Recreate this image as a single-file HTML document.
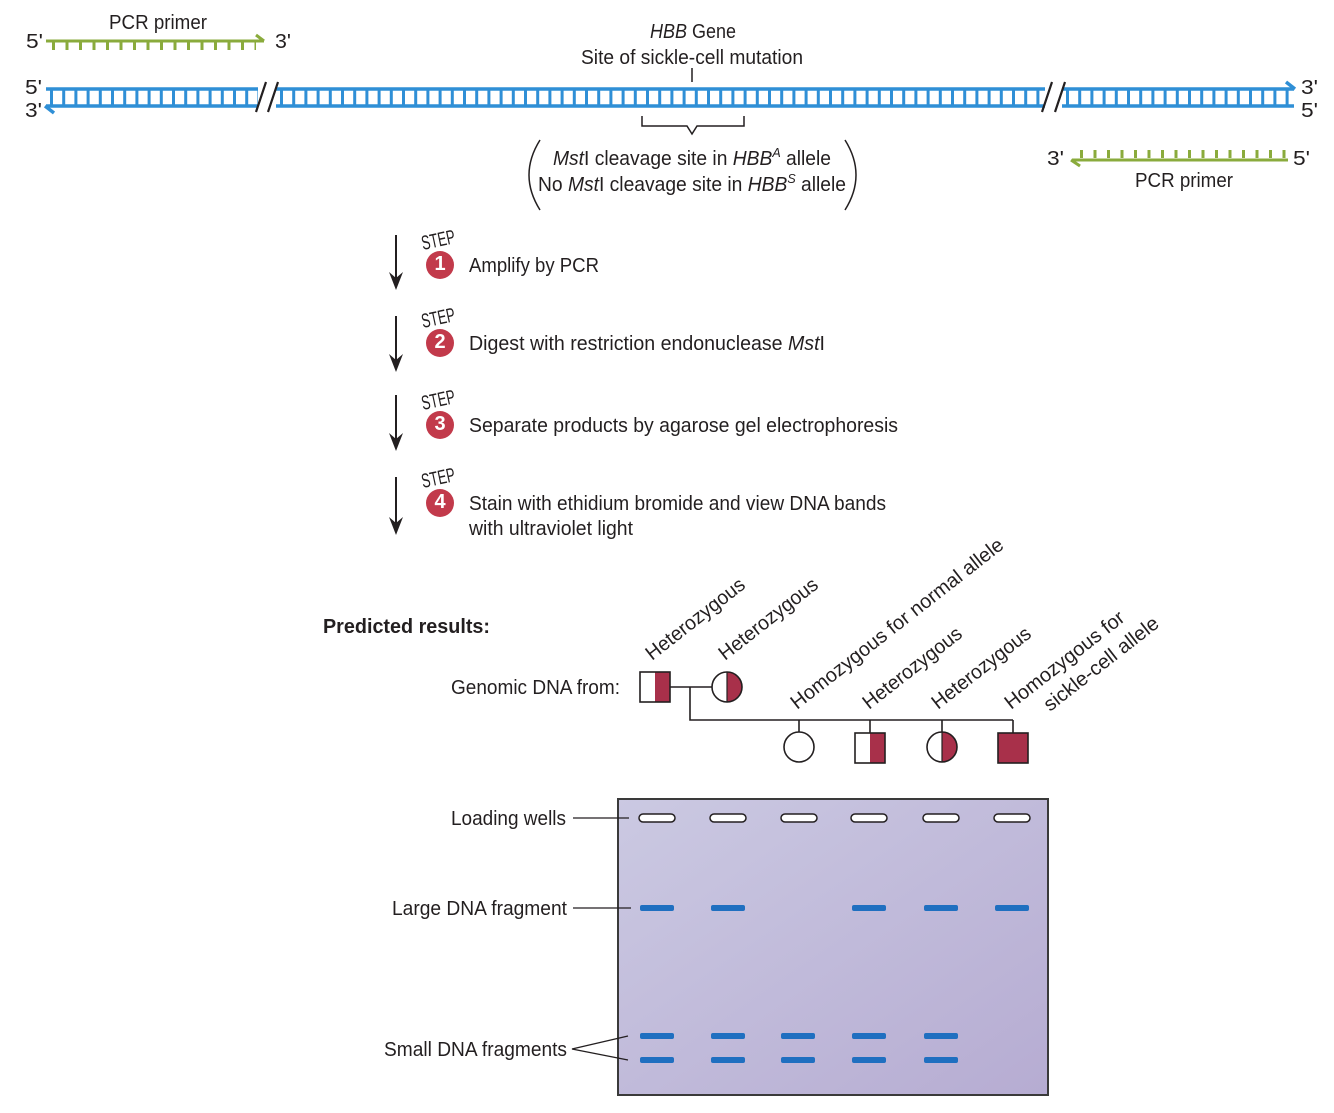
<!DOCTYPE html>
<html><head><meta charset="utf-8"><style>
html,body{margin:0;padding:0;background:#fff;}
svg{display:block;}
text{font-family:"Liberation Sans Narrow","Liberation Sans",sans-serif;fill:#231f20;font-size:20px;}
</style></head><body>
<svg width="1334" height="1113" viewBox="0 0 1334 1113" xmlns="http://www.w3.org/2000/svg">
<defs>
<linearGradient id="gel" x1="0" y1="0" x2="1" y2="1">
<stop offset="0" stop-color="#cbc9e2"/><stop offset="1" stop-color="#b6acd2"/>
</linearGradient>
</defs>
<!-- top-left primer -->
<text x="158" y="29" text-anchor="middle" textLength="98" lengthAdjust="spacingAndGlyphs">PCR primer</text>
<text x="26" y="48" textLength="17" lengthAdjust="spacingAndGlyphs">5'</text>
<text x="275" y="48" textLength="16" lengthAdjust="spacingAndGlyphs">3'</text>
<line x1="46" y1="41" x2="264" y2="41" stroke="#8aab3c" stroke-width="3"/>
<line x1="52" y1="46" x2="256" y2="46" stroke="#8aab3c" stroke-width="8" stroke-dasharray="3 10.5"/>
<polyline points="256,35 264,41" stroke="#8aab3c" stroke-width="3" fill="none"/>
<!-- DNA -->
<g stroke="#2f8fd6" fill="none">
<line x1="46" y1="89" x2="258" y2="89" stroke-width="3.5"/>
<line x1="46" y1="106" x2="258" y2="106" stroke-width="3.5"/>
<line x1="276" y1="89" x2="1045" y2="89" stroke-width="3.5"/>
<line x1="276" y1="106" x2="1045" y2="106" stroke-width="3.5"/>
<line x1="1062" y1="89" x2="1294" y2="89" stroke-width="3.5"/>
<line x1="1062" y1="106" x2="1294" y2="106" stroke-width="3.5"/>
<line x1="50" y1="97.5" x2="258" y2="97.5" stroke-width="14" stroke-dasharray="3 9.2"/>
<line x1="280" y1="97.5" x2="1045" y2="97.5" stroke-width="14" stroke-dasharray="3 9.2"/>
<line x1="1066" y1="97.5" x2="1292" y2="97.5" stroke-width="14" stroke-dasharray="3 9.2"/>
<polyline points="1286,82 1295,89" stroke-width="3.5"/>
<polyline points="54,113 45,106" stroke-width="3.5"/>
</g>
<g stroke="#231f20" stroke-width="2.2">
<line x1="256" y1="112" x2="266" y2="82"/><line x1="268" y1="112" x2="278" y2="82"/>
<line x1="1042" y1="112" x2="1052" y2="82"/><line x1="1055" y1="112" x2="1065" y2="82"/>
</g>
<text x="25" y="94" textLength="17" lengthAdjust="spacingAndGlyphs">5'</text>
<text x="25" y="117" textLength="17" lengthAdjust="spacingAndGlyphs">3'</text>
<text x="1301" y="94" textLength="17" lengthAdjust="spacingAndGlyphs">3'</text>
<text x="1301" y="117" textLength="17" lengthAdjust="spacingAndGlyphs">5'</text>
<!-- HBB labels -->
<text x="650" y="38" textLength="86" lengthAdjust="spacingAndGlyphs"><tspan font-style="italic">HBB</tspan> Gene</text>
<text x="692" y="64" text-anchor="middle" textLength="222" lengthAdjust="spacingAndGlyphs">Site of sickle-cell mutation</text>
<line x1="692" y1="68" x2="692" y2="82" stroke="#231f20" stroke-width="1.5"/>
<polyline points="642,116 642,126 687,126 692,134 697,126 744,126 744,116" fill="none" stroke="#231f20" stroke-width="1.5"/>
<path d="M540,140 Q518,175 540,210" fill="none" stroke="#231f20" stroke-width="1.5"/>
<path d="M845,140 Q867,175 845,210" fill="none" stroke="#231f20" stroke-width="1.5"/>
<text x="553" y="165" textLength="278" lengthAdjust="spacingAndGlyphs"><tspan font-style="italic">Mst</tspan>I cleavage site in <tspan font-style="italic">HBB</tspan><tspan font-style="italic" font-size="13" dy="-8">A</tspan><tspan dy="8"> allele</tspan></text>
<text x="538" y="191" textLength="308" lengthAdjust="spacingAndGlyphs"><tspan>No </tspan><tspan font-style="italic">Mst</tspan>I cleavage site in <tspan font-style="italic">HBB</tspan><tspan font-style="italic" font-size="13" dy="-8">S</tspan><tspan dy="8"> allele</tspan></text>
<!-- right primer -->
<line x1="1072" y1="160" x2="1288" y2="160" stroke="#8aab3c" stroke-width="3"/>
<line x1="1080" y1="154" x2="1288" y2="154" stroke="#8aab3c" stroke-width="8" stroke-dasharray="3 10.5"/>
<polyline points="1080,166 1071,160" stroke="#8aab3c" stroke-width="3" fill="none"/>
<text x="1047" y="165" textLength="17" lengthAdjust="spacingAndGlyphs">3'</text>
<text x="1293" y="165" textLength="17" lengthAdjust="spacingAndGlyphs">5'</text>
<text x="1184" y="187" text-anchor="middle" textLength="98" lengthAdjust="spacingAndGlyphs">PCR primer</text>
<!-- steps -->
<g stroke="#231f20" stroke-width="2" fill="#231f20">
<line x1="396" y1="235" x2="396" y2="282"/><path d="M389,272 L396,290 L403,272 L396,278Z" stroke="none"/>
<line x1="396" y1="316" x2="396" y2="364"/><path d="M389,354 L396,372 L403,354 L396,360Z" stroke="none"/>
<line x1="396" y1="395" x2="396" y2="443"/><path d="M389,433 L396,451 L403,433 L396,439Z" stroke="none"/>
<line x1="396" y1="477" x2="396" y2="527"/><path d="M389,517 L396,535 L403,517 L396,523Z" stroke="none"/>
</g>
<g font-size="11">
<text x="423" y="250" transform="rotate(-12 423 250)" textLength="34" lengthAdjust="spacingAndGlyphs">STEP</text>
<text x="423" y="328" transform="rotate(-12 423 328)" textLength="34" lengthAdjust="spacingAndGlyphs">STEP</text>
<text x="423" y="410" transform="rotate(-12 423 410)" textLength="34" lengthAdjust="spacingAndGlyphs">STEP</text>
<text x="423" y="488" transform="rotate(-12 423 488)" textLength="34" lengthAdjust="spacingAndGlyphs">STEP</text>
</g>
<g fill="#c23a4b">
<circle cx="440" cy="265" r="14"/><circle cx="440" cy="343" r="14"/><circle cx="440" cy="425" r="14"/><circle cx="440" cy="503" r="14"/>
</g>
<g font-size="15" font-weight="bold" text-anchor="middle">
<text x="440" y="270" style="fill:#fff">1</text><text x="440" y="348" style="fill:#fff">2</text><text x="440" y="430" style="fill:#fff">3</text><text x="440" y="508" style="fill:#fff">4</text>
</g>
<text x="469" y="272" textLength="130" lengthAdjust="spacingAndGlyphs">Amplify by PCR</text>
<text x="469" y="350" textLength="356" lengthAdjust="spacingAndGlyphs">Digest with restriction endonuclease <tspan font-style="italic">Mst</tspan>I</text>
<text x="469" y="432" textLength="429" lengthAdjust="spacingAndGlyphs">Separate products by agarose gel electrophoresis</text>
<text x="469" y="510" textLength="417" lengthAdjust="spacingAndGlyphs">Stain with ethidium bromide and view DNA bands</text>
<text x="469" y="535" textLength="164" lengthAdjust="spacingAndGlyphs">with ultraviolet light</text>
<!-- predicted -->
<text x="323" y="633" font-weight="bold" textLength="167" lengthAdjust="spacingAndGlyphs">Predicted results:</text>
<text x="451" y="694" textLength="169" lengthAdjust="spacingAndGlyphs">Genomic DNA from:</text>
<g transform="rotate(-38 652 661)"><text x="652" y="661" textLength="120" lengthAdjust="spacingAndGlyphs">Heterozygous</text></g>
<g transform="rotate(-38 725 661)"><text x="725" y="661" textLength="120" lengthAdjust="spacingAndGlyphs">Heterozygous</text></g>
<g transform="rotate(-38 797 710)"><text x="797" y="710" textLength="264" lengthAdjust="spacingAndGlyphs">Homozygous for normal allele</text></g>
<g transform="rotate(-38 869 710)"><text x="869" y="710" textLength="120" lengthAdjust="spacingAndGlyphs">Heterozygous</text></g>
<g transform="rotate(-38 938 710)"><text x="938" y="710" textLength="120" lengthAdjust="spacingAndGlyphs">Heterozygous</text></g>
<g transform="rotate(-38 1011 710)"><text x="1011" y="710" textLength="146" lengthAdjust="spacingAndGlyphs">Homozygous for</text></g>
<g transform="rotate(-38 1050 712)"><text x="1050" y="712" textLength="140" lengthAdjust="spacingAndGlyphs">sickle-cell allele</text></g>
<!-- pedigree -->
<g stroke="#231f20" stroke-width="1.6" fill="none">
<line x1="670" y1="687" x2="712" y2="687"/>
<polyline points="690,687 690,720 1013,720"/>
<line x1="799" y1="720" x2="799" y2="732"/><line x1="870" y1="720" x2="870" y2="733"/>
<line x1="942" y1="720" x2="942" y2="732"/><line x1="1013" y1="720" x2="1013" y2="733"/>
</g>
<rect x="655" y="672" width="15" height="30" fill="#a8304a"/>
<rect x="640" y="672" width="30" height="30" fill="none" stroke="#231f20" stroke-width="1.6"/>
<path d="M727,672 A15,15 0 0 1 727,702Z" fill="#a8304a"/>
<circle cx="727" cy="687" r="15" fill="none" stroke="#231f20" stroke-width="1.6"/>
<line x1="727" y1="672" x2="727" y2="702" stroke="#231f20" stroke-width="1.2"/>
<circle cx="799" cy="747" r="15" fill="#fff" stroke="#231f20" stroke-width="1.6"/>
<rect x="870" y="733" width="15" height="30" fill="#a8304a"/>
<rect x="855" y="733" width="30" height="30" fill="none" stroke="#231f20" stroke-width="1.6"/>
<path d="M942,732 A15,15 0 0 1 942,762Z" fill="#a8304a"/>
<circle cx="942" cy="747" r="15" fill="none" stroke="#231f20" stroke-width="1.6"/>
<line x1="942" y1="732" x2="942" y2="762" stroke="#231f20" stroke-width="1.2"/>
<rect x="998" y="733" width="30" height="30" fill="#a8304a" stroke="#231f20" stroke-width="1.6"/>
<!-- gel -->
<rect x="618" y="799" width="430" height="296" fill="url(#gel)" stroke="#3a3a3a" stroke-width="2"/>
<g fill="#fff" stroke="#231f20" stroke-width="1.5">
<rect x="639" y="814" width="36" height="8" rx="4"/><rect x="710" y="814" width="36" height="8" rx="4"/>
<rect x="781" y="814" width="36" height="8" rx="4"/><rect x="851" y="814" width="36" height="8" rx="4"/>
<rect x="923" y="814" width="36" height="8" rx="4"/><rect x="994" y="814" width="36" height="8" rx="4"/>
</g>
<g fill="#1f6fc0">
<rect x="640" y="905" width="34" height="6" rx="2"/><rect x="711" y="905" width="34" height="6" rx="2"/>
<rect x="852" y="905" width="34" height="6" rx="2"/><rect x="924" y="905" width="34" height="6" rx="2"/><rect x="995" y="905" width="34" height="6" rx="2"/>
<rect x="640" y="1033" width="34" height="6" rx="2"/><rect x="711" y="1033" width="34" height="6" rx="2"/><rect x="781" y="1033" width="34" height="6" rx="2"/><rect x="852" y="1033" width="34" height="6" rx="2"/><rect x="924" y="1033" width="34" height="6" rx="2"/>
<rect x="640" y="1057" width="34" height="6" rx="2"/><rect x="711" y="1057" width="34" height="6" rx="2"/><rect x="781" y="1057" width="34" height="6" rx="2"/><rect x="852" y="1057" width="34" height="6" rx="2"/><rect x="924" y="1057" width="34" height="6" rx="2"/>
</g>
<g stroke="#231f20" stroke-width="1.3" fill="none">
<line x1="573" y1="818" x2="629" y2="818"/>
<line x1="573" y1="908" x2="631" y2="908"/>
<polyline points="628,1036 572,1049 628,1060"/>
</g>
<text x="566" y="825" text-anchor="end" textLength="115" lengthAdjust="spacingAndGlyphs">Loading wells</text>
<text x="567" y="915" text-anchor="end" textLength="175" lengthAdjust="spacingAndGlyphs">Large DNA fragment</text>
<text x="567" y="1056" text-anchor="end" textLength="183" lengthAdjust="spacingAndGlyphs">Small DNA fragments</text>
</svg>
</body></html>
